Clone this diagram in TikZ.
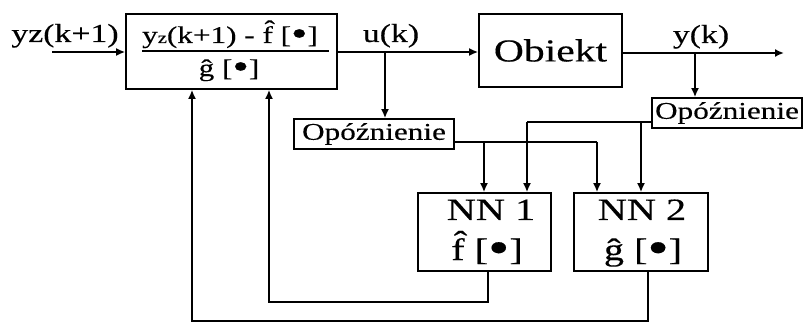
\documentclass[tikz,border=0pt]{standalone}
\usepackage{fontspec}
\setmainfont{Liberation Serif}[FakeStretch=1.3,FakeBold=0.3]
\usetikzlibrary{arrows.meta}
\newcommand\blt{[\raisebox{-0.1em}{\scalebox{1.5}{\textbullet}}]}
\begin{document}
\begin{tikzpicture}[x=1pt,y=-1pt,
  box/.style={draw,line width=1.7pt,inner sep=0pt,align=center},
  conn/.style={line width=1.7pt},
  arr/.style={conn,-{Latex[length=9pt,width=8pt]}},
  txt/.style={inner sep=0pt,anchor=base},
  lbl/.style={txt,font=\fontsize{26}{28}\selectfont}]
\useasboundingbox (0,0) rectangle (803,323);
% blocks
\node[box,minimum width=211pt,minimum height=75pt] (ctrl) at (231.5,51.5) {};
\node[txt,font=\fontsize{24}{26}\selectfont,text depth=0pt] (num) at (230,43) {y{\fontsize{16}{16}\selectfont z}(k+1) - \^{f} \blt};
\node[txt,font=\fontsize{24}{26}\selectfont] (den) at (229,76) {\^{g} \blt};
\coordinate (fl) at (142,51);
\coordinate (fr) at (329,51);
\draw[conn] (fl) -- (fr);
\node[box,minimum width=143pt,minimum height=73pt,font=\fontsize{32}{34}\selectfont] (obj) at (550.5,50.5) {Obiekt};
\node[box,minimum width=160pt,minimum height=30pt,font=\fontsize{24}{26}\selectfont] (op1) at (374,134) {Opóźnienie};
\node[box,minimum width=150pt,minimum height=30pt,font=\fontsize{24}{26}\selectfont] (op2) at (727,113) {Opóźnienie};
\node[box,minimum width=133pt,minimum height=78pt] (nn1) at (484.5,232) {};
\node[box,minimum width=134pt,minimum height=78pt] (nn2) at (641,232) {};
\node[txt,font=\fontsize{31}{33}\selectfont,text depth=0pt] (nn1a) at (491,220) {NN 1};
\node[txt,font=\fontsize{31}{33}\selectfont] (nn1b) at (487,260) {\^{f} \blt};
\node[txt,font=\fontsize{31}{33}\selectfont,text depth=0pt] (nn2a) at (642,220) {NN 2};
\node[txt,font=\fontsize{31}{33}\selectfont] (nn2b) at (643,260) {\^{g} \blt};
% labels
\node[lbl] (lin) at (65,42) {yz(k+1)};
\node[lbl] (lu) at (391,42) {u(k)};
\node[lbl] (ly) at (701,43) {y(k)};
% input
\coordinate (in) at (52,52);
\draw[arr] (in) -- (ctrl.west |- in);
% u(k)
\coordinate (ub) at (385,52);
\draw[arr] (ctrl.east |- ub) -- (obj.west |- ub);
\draw[arr] (ub) -- (ub |- op1.north);
% y(k)
\coordinate (yb) at (695,53);
\coordinate (yout) at (784,53);
\draw[arr] (obj.east |- yb) -- (yout);
\draw[arr] (yb) -- (yb |- op2.north);
% delay 1 outputs
\coordinate (d1) at (454,142);
\coordinate (d1a) at (484,142);
\coordinate (d1b) at (597,142);
\draw[conn] (d1) -- (d1b);
\draw[arr] (d1a) -- (d1a |- nn1.north);
\draw[arr] (d1b) -- (d1b |- nn2.north);
% delay 2 outputs
\coordinate (d2) at (652,122);
\coordinate (d2a) at (641,122);
\coordinate (d2b) at (527,122);
\draw[conn] (d2) -- (d2b);
\draw[arr] (d2b) -- (d2b |- nn1.north);
\draw[arr] (d2a) -- (d2a |- nn2.north);
% feedback
\coordinate (f1) at (488,302);
\coordinate (f1l) at (269,302);
\draw[arr] (f1 |- nn1.south) -- (f1) -- (f1l) -- (f1l |- ctrl.south);
\coordinate (f2) at (648,321);
\coordinate (f2l) at (192,321);
\draw[arr] (f2 |- nn2.south) -- (f2) -- (f2l) -- (f2l |- ctrl.south);
\end{tikzpicture}
\end{document}
